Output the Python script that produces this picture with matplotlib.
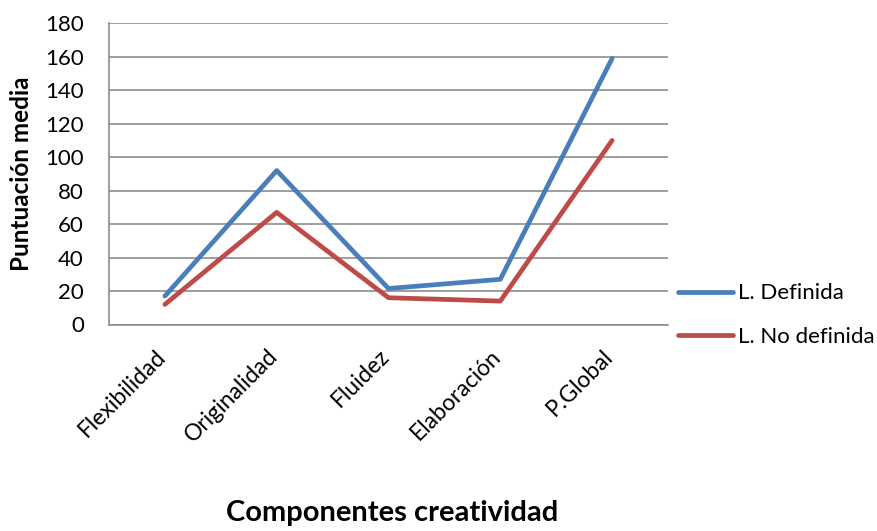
import matplotlib
matplotlib.use("Agg")
import numpy as np
import matplotlib.pyplot as plt
import matplotlib.transforms as mtransforms

categories = ["Flexibilidad", "Originalidad", "Fluidez", "Elaboración", "P.Global"]
definida = [17, 92, 21.5, 27, 159]
no_definida = [12, 67, 16, 14, 110]
yticks = [0, 20, 40, 60, 80, 100, 120, 140, 160, 180]

plt.rcParams["font.family"] = ["Lato", "DejaVu Sans"]

fig = plt.figure(figsize=(8.77, 5.31), dpi=100)
ax = fig.add_axes([109 / 877, 1 - 324.5 / 531, (668 - 109) / 877, (324.5 - 23.3) / 531])

x = np.arange(len(categories))
ax.plot(x, definida, color="#4A7EBB", linewidth=3.4, label="L. Definida", solid_capstyle="round")
ax.plot(x, no_definida, color="#BE4B48", linewidth=3.4, label="L. No definida", solid_capstyle="round")

ax.set_xlim(-0.5, len(categories) - 0.5)
ax.set_ylim(0, 180)
ax.set_yticks(yticks)
ax.set_xticks(x)
ax.set_xticklabels(categories, rotation=45, ha="right", rotation_mode="anchor", fontsize=16.5)
ax.tick_params(axis="y", labelsize=16, length=0, pad=18)
ax.tick_params(axis="x", length=0, pad=10)
shift = mtransforms.ScaledTranslation(-0.10, -0.07, fig.dpi_scale_trans)
for lab in ax.get_xticklabels():
    lab.set_transform(lab.get_transform() + shift)
ax.grid(axis="y", color="#8C8C8C", linewidth=1.2)
ax.set_axisbelow(True)
for side in ["top", "right"]:
    ax.spines[side].set_visible(False)
for side in ["left", "bottom"]:
    ax.spines[side].set_color("#8C8C8C")
    ax.spines[side].set_linewidth(1.2)

fig.text(22 / 877, 1 - 174 / 531, "Puntuación media", rotation=90, ha="center", va="center",
         fontsize=17.5, fontweight="bold")
fig.text(392 / 877, 1 - 513 / 531, "Componentes creatividad", ha="center", va="center",
         fontsize=21, fontweight="bold")

fig.legend(loc="center left", bbox_to_anchor=(678 / 877, 1 - 315 / 531), bbox_transform=fig.transFigure,
           frameon=False, fontsize=16, handlelength=2.48, handletextpad=0.2, labelspacing=1.05,
           borderpad=0, borderaxespad=0)

fig.savefig("out.png", dpi=100)
